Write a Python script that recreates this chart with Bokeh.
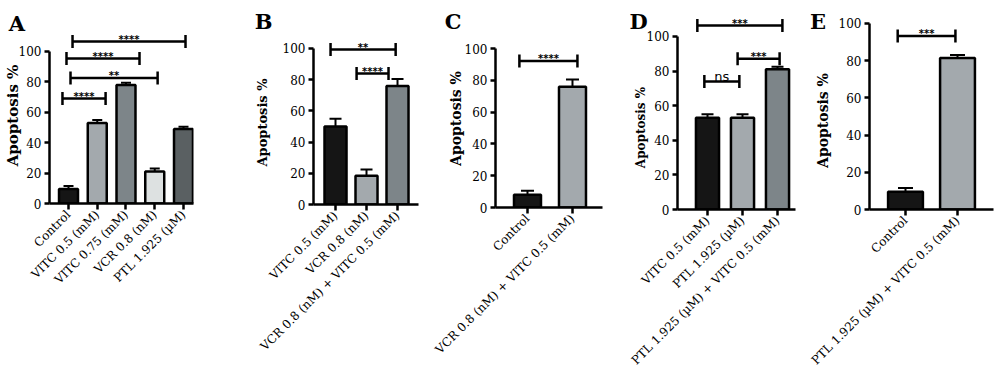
import math
from bokeh.plotting import figure
from bokeh.models import FixedTicker, Whisker, TeeHead, ColumnDataSource, Range1d, GridBox
from bokeh.embed import file_html
from bokeh.resources import INLINE
from bokeh.core.properties import value

# ---------------- data ----------------
a_labels = ["Control", "VITC 0.5 (mM)", "VITC 0.75 (mM)", "VCR 0.8 (nM)", "PTL 1.925 (µM)"]
a_values = [9.5, 53, 78, 21, 49]
a_errors = [2, 2, 1.5, 2, 1.5]
a_colors = ["#151515", "#a3a9ad", "#7d8589", "#dde1e1", "#5a6062"]
a_br_x0 = [-0.21, 0.07, -0.07, 0.14]
a_br_x1 = [1.29, 3.10, 2.47, 4.07]
a_br_y = [69, 82.6, 95.4, 106.6]
a_br_txt = ["****", "**", "****", "****"]

b_labels = ["VITC 0.5 (mM)", "VCR 0.8 (nM)", "VCR 0.8 (nM) + VITC 0.5 (mM)"]
b_values = [50, 18.5, 76]
b_errors = [5, 4, 4.5]
b_colors = ["#151515", "#a3a9ad", "#7d8589"]
b_br_x0 = [-0.16, 0.68]
b_br_x1 = [1.94, 1.71]
b_br_y = [99.4, 84]
b_br_txt = ["**", "****"]

c_labels = ["Control", "VCR 0.8 (nM) + VITC 0.5 (mM)"]
c_values = [8, 76]
c_errors = [2.5, 4.5]
c_colors = ["#151515", "#a3a9ad"]
c_br_x0 = [-0.18]
c_br_x1 = [1.11]
c_br_y = [92.2]
c_br_txt = ["****"]

d_labels = ["VITC 0.5 (mM)", "PTL 1.925 (µM)", "PTL 1.925 (µM) + VITC 0.5 (mM)"]
d_values = [53, 53, 81]
d_errors = [2, 2, 1.5]
d_colors = ["#151515", "#a3a9ad", "#7d8589"]
d_br_x0 = [-0.29, 0.86, -0.09]
d_br_x1 = [2.14, 2.06, 0.91]
d_br_y = [106.3, 87.1, 74]
d_br_txt = ["***", "***", "ns"]

e_labels = ["Control", "PTL 1.925 (µM) + VITC 0.5 (mM)"]
e_values = [9.5, 81.5]
e_errors = [2, 1.5]
e_colors = ["#151515", "#a3a9ad"]
e_br_x0 = [-0.15]
e_br_x1 = [0.96]
e_br_y = [93.3]
e_br_txt = ["***"]

y_ticks = [0, 20, 40, 60, 80, 100]

panel_letters = ["A", "B", "C", "D", "E"]
y_title = "Apoptosis %"

# ---------------- layout geometry (pixels) ----------------
W, H = 1000, 377
geo = {
    "A": dict(w=212, mbl=49, mbr=19, mbt=28, mbb=174, xs=-0.661, xe=4.348, ye=115.1, bw=0.66, cap=10),
    "B": dict(w=218, mbl=101, mbr=12, mbt=28, mbb=173, xs=-0.710, xe=2.677, ye=112.8, bw=0.71, cap=12),
    "C": dict(w=182, mbl=65, mbr=10, mbt=28, mbb=170, xs=-0.711, xe=1.667, ye=112.6, bw=0.60, cap=13),
    "D": dict(w=193, mbl=65, mbr=10, mbt=15, mbb=168, xs=-0.857, xe=2.514, ye=112.1, bw=0.66, cap=12),
    "E": dict(w=195, mbl=64, mbr=7, mbt=15, mbb=168, xs=-0.692, xe=1.692, ye=104.3, bw=0.67, cap=15),
}
letter_pos = [(16.5, 23), (263, 21), (452.5, 21), (638, 21), (817.5, 21)]
title_pos = [(12, 115), (262, 122), (455, 118), (640, 127), (822, 120)]
title_size = ["15px", "13px", "14px", "12px", "14px"]

SERIF = "DejaVu Serif"
SANS = "DejaVu Sans"


def panel(name, labels, vals, errs, colors, bx0, bx1, by, btxt):
    g = geo[name]
    p = figure(width=g["w"], height=H, x_range=Range1d(g["xs"], g["xe"]), y_range=Range1d(0, g["ye"]),
               output_backend="svg", toolbar_location=None,
               min_border_left=g["mbl"], min_border_right=g["mbr"],
               min_border_top=g["mbt"], min_border_bottom=g["mbb"])
    p.frame_align = False
    p.outline_line_color = None
    p.grid.visible = False
    p.background_fill_color = "white"
    p.border_fill_color = "white"

    idx = list(range(len(labels)))
    src = ColumnDataSource(dict(x=idx, top=vals, upper=[v + e for v, e in zip(vals, errs)], color=colors))
    p.add_layout(Whisker(source=src, base="x", lower="top", upper="upper", dimension="height",
                         line_width=2, line_color="black",
                         upper_head=TeeHead(size=g["cap"], line_width=2, line_color="black"),
                         lower_head=None, level="underlay"))
    p.vbar(x="x", top="top", width=g["bw"], source=src, fill_color="color",
           line_color="black", line_width=2.5)

    # significance brackets
    p.segment(x0=bx0, y0=by, x1=bx1, y1=by, line_width=2.5, line_color="black")
    p.scatter(x=bx0 + bx1, y=by + by, marker="dash", size=13, angle=math.pi / 2,
              line_width=2.5, line_color="black")
    mids = [(a + b) / 2 for a, b in zip(bx0, bx1)]
    stars = [t for t in btxt if t != "ns"]
    smid = [m for m, t in zip(mids, btxt) if t != "ns"]
    sy = [y for y, t in zip(by, btxt) if t != "ns"]
    if stars:
        p.text(x=smid, y=sy, text=stars, text_align="center", text_baseline="alphabetic",
               text_font=value(SANS), text_font_style="bold", text_font_size="10px",
               y_offset=-2, text_color="black")
    ns_mid = [m for m, t in zip(mids, btxt) if t == "ns"]
    ns_y = [y for y, t in zip(by, btxt) if t == "ns"]
    if ns_mid:
        p.text(x=ns_mid, y=ns_y, text=["ns"] * len(ns_mid), text_align="center",
               text_baseline="alphabetic", text_font=value(SANS), text_font_size="13px",
               y_offset=-5, text_color="black")

    # axes
    for ax in (p.xaxis, p.yaxis):
        ax.axis_line_width = 2.5
        ax.axis_line_color = "black"
        ax.major_tick_line_width = 2.5
        ax.major_tick_line_color = "black"
        ax.minor_tick_line_color = None
        ax.major_tick_in = 0
        ax.major_label_text_font = SERIF
        ax.major_label_text_font_size = "12px"
        ax.major_label_text_color = "black"
    p.yaxis.ticker = FixedTicker(ticks=y_ticks)
    p.yaxis.bounds = (0, 100)
    p.yaxis.major_tick_out = 5
    p.yaxis.major_label_standoff = 3
    p.xaxis.ticker = FixedTicker(ticks=idx)
    p.xaxis.major_label_overrides = {i: l for i, l in enumerate(labels)}
    p.xaxis.major_label_orientation = math.pi / 4
    p.xaxis.major_tick_out = 6
    p.xaxis.major_label_standoff = 3
    return p


pa = panel("A", a_labels, a_values, a_errors, a_colors, a_br_x0, a_br_x1, a_br_y, a_br_txt)
pb = panel("B", b_labels, b_values, b_errors, b_colors, b_br_x0, b_br_x1, b_br_y, b_br_txt)
pc = panel("C", c_labels, c_values, c_errors, c_colors, c_br_x0, c_br_x1, c_br_y, c_br_txt)
pd = panel("D", d_labels, d_values, d_errors, d_colors, d_br_x0, d_br_x1, d_br_y, d_br_txt)
pe = panel("E", e_labels, e_values, e_errors, e_colors, e_br_x0, e_br_x1, e_br_y, e_br_txt)

# transparent overlay carrying panel letters and y-axis titles (page pixel coordinates)
ov = figure(width=W, height=H, x_range=Range1d(0, W), y_range=Range1d(H, 0),
            output_backend="svg", toolbar_location=None, x_axis_type=None, y_axis_type=None,
            min_border=0, min_border_left=0, min_border_right=0, min_border_top=0, min_border_bottom=0)
ov.frame_align = False
ov.background_fill_color = None
ov.border_fill_color = None
ov.outline_line_color = None
ov.grid.visible = False
ov.text(x=[p[0] for p in letter_pos], y=[p[1] for p in letter_pos], text=panel_letters,
        text_align="center", text_baseline="middle", text_font=value(SERIF),
        text_font_style="bold", text_font_size="21px", text_color="black")
for (tx, ty), ts in zip(title_pos, title_size):
    ov.text(x=[tx], y=[ty], text=[y_title], angle=math.pi / 2, text_align="center",
            text_baseline="middle", text_font=value(SERIF), text_font_style="bold",
            text_font_size=ts, text_color="black")

layout = GridBox(children=[(pa, 0, 0), (pb, 0, 1), (pc, 0, 2), (pd, 0, 3), (pe, 0, 4),
                           (ov, 0, 0, 1, 5)], spacing=0)
open("out.html", "w").write(file_html(layout, INLINE))
